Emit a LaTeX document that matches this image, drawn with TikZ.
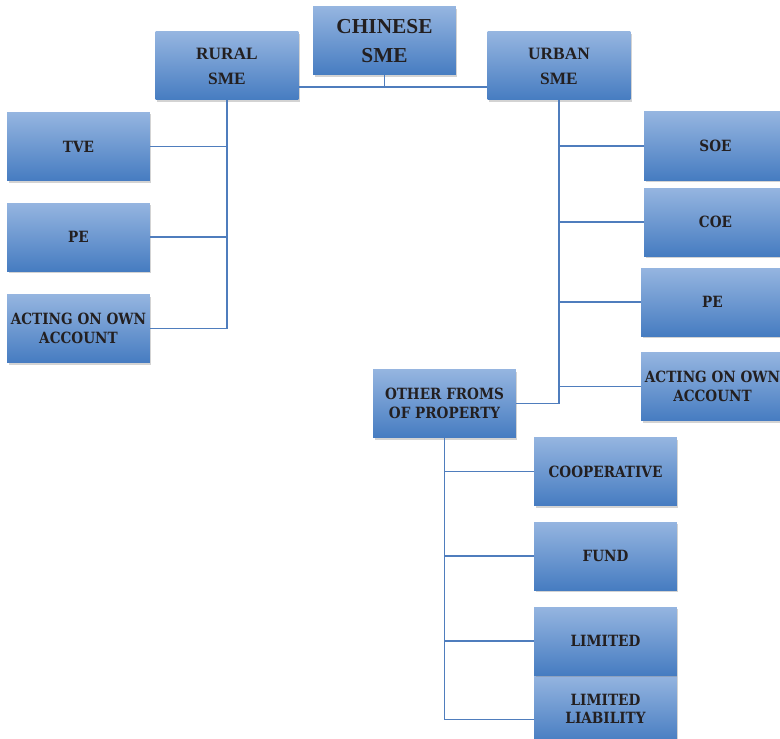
\documentclass[tikz,border=0pt]{standalone}
\usepackage{fontspec}
\setmainfont{Liberation Serif}
\newfontfamily\leaffont[FakeStretch=0.88]{DejaVu Serif}
\usetikzlibrary{shadows}
\definecolor{boxtop}{RGB}{149,181,224}
\definecolor{boxbot}{RGB}{70,124,193}
\definecolor{linkblue}{RGB}{79,125,189}
\definecolor{inkdark}{RGB}{35,31,32}
\tikzset{
orgbox/.style={rectangle, top color=boxtop, bottom color=boxbot,
  minimum width=107pt, minimum height=51pt, inner sep=0pt,
  align=center, text=inkdark,
  drop shadow={shadow xshift=1pt, shadow yshift=-1.5pt, opacity=0.35}},
rootbox/.style={orgbox, font=\fontsize{16}{22}\selectfont\bfseries},
headbox/.style={orgbox, font=\fontsize{13}{18.75}\selectfont\bfseries},
leafbox/.style={orgbox, font=\leaffont\fontsize{11.6}{14}\selectfont\bfseries},
link/.style={draw=linkblue, line width=1.2pt}
}
\begin{document}
\begin{tikzpicture}[x=0.75pt, y=-0.75pt]
\useasboundingbox (0,0) rectangle (780,738);
% top level
\node[rootbox] (chinese) at (384.5,41) {CHINESE\\SME};
\node[headbox] (rural) at (227,66) {RURAL\\SME};
\node[headbox] (urban) at (559,66) {URBAN\\SME};
% rural side
\node[leafbox] (tve) at (78.5,146.5) {TVE};
\node[leafbox] (peL) at (78.5,237) {PE};
\node[leafbox] (actL) at (78.5,328.5) {ACTING ON OWN\\ACCOUNT};
% urban side
\node[leafbox] (soe) at (715.5,146) {SOE};
\node[leafbox] (coe) at (715.5,222) {COE};
\node[leafbox] (peR) at (712.5,302) {PE};
\node[leafbox] (actR) at (712.5,386.5) {ACTING ON OWN\\ACCOUNT};
\node[leafbox] (other) at (444.5,403.5) {OTHER FROMS\\OF PROPERTY};
% other forms
\node[leafbox] (coop) at (605.5,471.5) {COOPERATIVE};
\node[leafbox] (fund) at (605.5,556) {FUND};
\node[leafbox] (limliab) at (605.5,709) {LIMITED\\LIABILITY};
\node[leafbox] (limited) at (605.5,641) {LIMITED};
% connectors
\coordinate (hub) at (384.5,87);
\draw[link] (chinese.south) -- (hub);
\draw[link] (rural.east |- hub) -- (urban.west |- hub);
\draw[link] (rural.south) |- (actL.east);
\foreach \n in {tve,peL}
  \draw[link] (\n.east) -- (\n.east -| rural.south);
\draw[link] (urban.south) |- (other.east);
\foreach \n in {soe,coe,peR,actR}
  \draw[link] (\n.west) -- (\n.west -| urban.south);
\draw[link] (other.south) |- ([yshift=-8pt]limliab.west);
\foreach \n in {coop,fund,limited}
  \draw[link] (\n.west) -- (\n.west -| other.south);
\end{tikzpicture}
\end{document}
